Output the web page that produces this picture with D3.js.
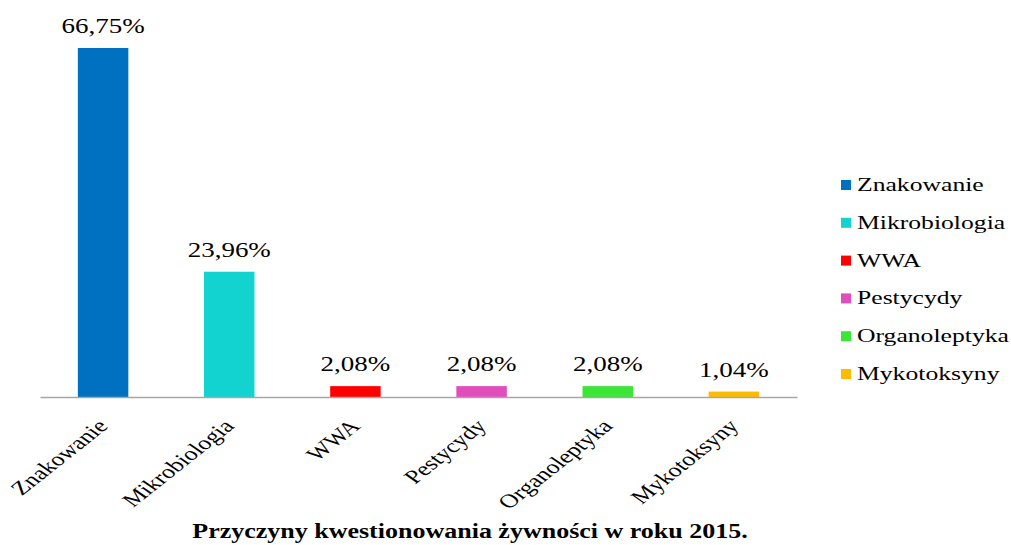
<!DOCTYPE html>
<html>
<head>
<meta charset="utf-8">
<script src="https://cdn.jsdelivr.net/npm/d3@7"></script>
<style>
  html, body { margin: 0; padding: 0; background: #fff; }
  svg { display: block; }
  text { font-family: "Liberation Serif", "Times New Roman", serif; fill: #000; }
</style>
</head>
<body>
<svg id="chart" width="1011" height="545"></svg>
<script>
const categories = ["Znakowanie", "Mikrobiologia", "WWA", "Pestycydy", "Organoleptyka", "Mykotoksyny"];
const values = [66.75, 23.96, 2.08, 2.08, 2.08, 1.04];
const valueLabels = ["66,75%", "23,96%", "2,08%", "2,08%", "2,08%", "1,04%"];
const colors = ["#0070C0", "#12D3CF", "#FF0000", "#E14EBB", "#3DE536", "#FFBB00"];
const title = "Przyczyny kwestionowania żywności w roku 2015.";

const SX = 1.35; // horizontal stretch of the text in the reference image

const svg = d3.select("#chart");

const x = d3.scaleBand().domain(categories).range([40, 797]).paddingInner(0.6).paddingOuter(0.3);
const y = d3.scaleLinear().domain([0, 66.75]).range([397, 48]);

// bars
svg.append("g").selectAll("rect").data(categories).join("rect")
  .attr("x", d => x(d))
  .attr("y", (d, i) => y(values[i]))
  .attr("width", x.bandwidth())
  .attr("height", (d, i) => y(0) - y(values[i]))
  .attr("fill", (d, i) => colors[i]);

// axis line
const xAxis = d3.axisBottom(x).tickSize(0).tickFormat("");
const gx = svg.append("g").attr("transform", `translate(0,${y(0)})`).call(xAxis);
gx.select(".domain").attr("stroke", "#a6a6a6").attr("stroke-width", 1.5);

// category labels
svg.append("g").selectAll("text").data(categories).join("text")
  .attr("transform", d => `translate(${x(d) + x.bandwidth() / 2 + 6},${y(0) + 30}) scale(${SX},1) rotate(-47)`)
  .attr("text-anchor", "end")
  .attr("font-size", 19.2)
  .text(d => d);

// value labels
svg.append("g").selectAll("text").data(categories).join("text")
  .attr("transform", (d, i) => `translate(${x(d) + x.bandwidth() / 2},${y(values[i]) - 15}) scale(${SX},1)`)
  .attr("text-anchor", "middle")
  .attr("font-size", 20)
  .text((d, i) => valueLabels[i]);

// legend
const legend = svg.append("g").selectAll("g").data(categories).join("g")
  .attr("transform", (d, i) => `translate(841,${185 + i * 37.8})`);
legend.append("rect").attr("x", 0).attr("y", -5).attr("width", 10).attr("height", 10)
  .attr("fill", (d, i) => colors[i]);
legend.append("text")
  .attr("transform", `translate(16,6) scale(${SX},1)`)
  .attr("font-size", 19)
  .text(d => d);

// title
svg.append("text")
  .attr("transform", `translate(470,538) scale(1.3,1)`)
  .attr("text-anchor", "middle")
  .attr("font-size", 20)
  .attr("font-weight", "bold")
  .text(title);
</script>
</body>
</html>
